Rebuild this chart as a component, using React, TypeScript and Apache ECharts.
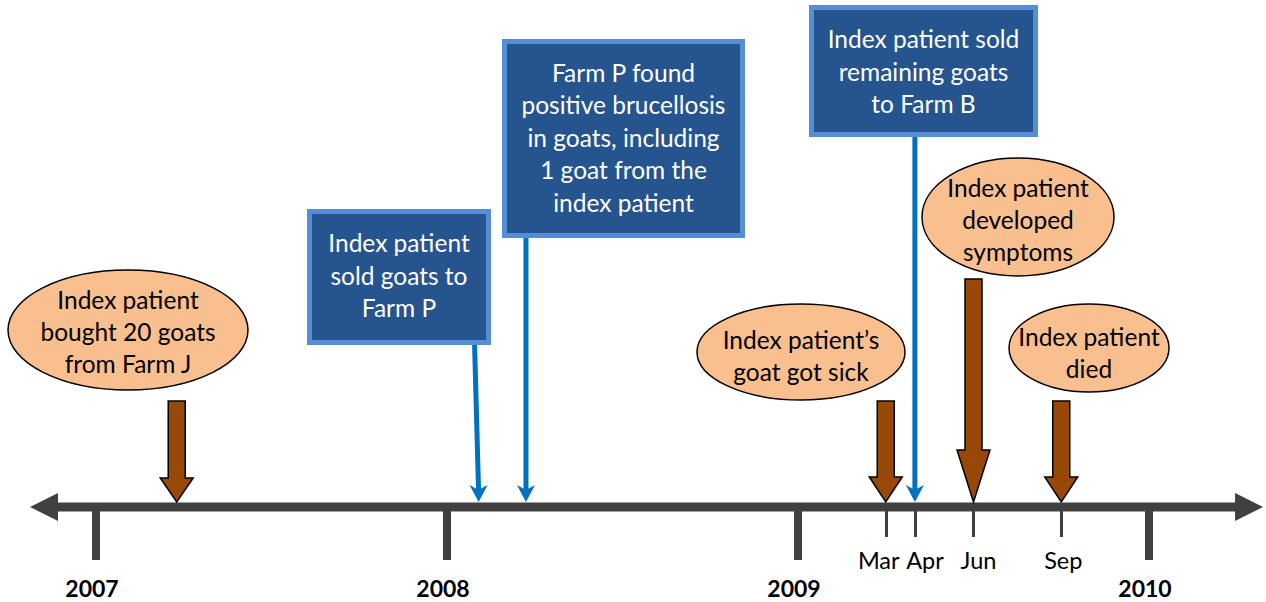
import React, { useEffect, useRef } from 'react';
import * as echarts from 'echarts';

// ---- data ----
const yearTicks = [2007, 2008, 2009, 2010];
const monthYear = 2009;
const monthNumbers = [3, 4, 6, 9];
const monthNames = ['Mar', 'Apr', 'Jun', 'Sep'];
const eventDates = [2007.23, 2008.09, 2008.225, 2009.25, 2009.333, 2009.5, 2009.75];
const eventTexts = [
  'Index patient\nbought 20 goats\nfrom Farm J',
  'Index patient\nsold goats to\nFarm P',
  'Farm P found\npositive brucellosis\nin goats, including\n1 goat from the\nindex patient',
  'Index patient\u2019s\ngoat got sick',
  'Index patient sold\nremaining goats\nto Farm B',
  'Index patient\ndeveloped\nsymptoms',
  'Index patient\ndied',
];

// ---- layout / style ----
const FONT = 'Lato, "Open Sans", sans-serif';
const TEXT_SIZE = 24.5;
const AXIS = '#404040';
const BROWN = '#984807';
const PEACH = '#F9BF8F';
const BOX_FILL = '#26548E';
const BOX_BORDER = '#558ED5';
const BLUE = '#0070C0';
const AXIS_Y = 507;
const AXIS_TOP = 502;
const lineExtent = [2006.812, 2010.325];

type Lay = any;
const eventLayout: Lay[] = [
  { shape: 'ellipse', cx: 128, cy: 330, rx: 120, ry: 60, textY: 331, arrowTop: 401, headTop: 478 },
  { shape: 'box', x0: 307, y0: 209, x1: 491, y1: 345, textY: 275, dx: -4 },
  { shape: 'box', x0: 502, y0: 39, x1: 745, y1: 238, textY: 137, dx: 0 },
  { shape: 'ellipse', cx: 801, cy: 352, rx: 104, ry: 48, textY: 355, arrowTop: 401, headTop: 477 },
  { shape: 'box', x0: 809, y0: 5, x1: 1038, y1: 137, textY: 71, dx: 0 },
  { shape: 'ellipse', cx: 1018, cy: 217, rx: 96, ry: 59, textY: 219, arrowTop: 279, headTop: 450 },
  { shape: 'ellipse', cx: 1089, cy: 348, rx: 80, ry: 44, textY: 352, arrowTop: 401, headTop: 477 },
];
const monthLabelShift = [-7, 10, 5, 2];

const monthValues = monthNumbers.map((m) => monthYear + m / 12);

export default function App() {
  const ref = useRef<HTMLDivElement>(null);
  useEffect(() => {
    if (!ref.current) return;
    const chart = echarts.init(ref.current, undefined, { renderer: 'svg' });

    const monthRich: any = {};
    monthLabelShift.forEach((s, i) => {
      monthRich['m' + i] = {
        fontSize: 23.5,
        fontFamily: FONT,
        color: '#000',
        padding: s < 0 ? [0, -2 * s, 0, 0] : [0, 0, 0, 2 * s],
      };
    });

    const option: any = {
      animation: false,
      backgroundColor: '#fff',
      grid: { left: 96, right: 117, top: 0, bottom: 602 - AXIS_Y, containLabel: false },
      xAxis: [
        {
          type: 'value',
          min: yearTicks[0],
          max: yearTicks[yearTicks.length - 1],
          interval: 1,
          position: 'bottom',
          axisLine: { show: false },
          splitLine: { show: false },
          axisTick: { show: true, length: 53, lineStyle: { width: 8, color: AXIS } },
          axisLabel: {
            show: true,
            margin: 81,
            verticalAlign: 'middle',
            formatter: (v: number) => `{y|${v}}`,
            rich: {
              y: { fontSize: 23, fontWeight: 'bold', fontFamily: FONT, color: '#000', padding: [0, 8, 0, 0] },
            },
          },
        },
        {
          type: 'value',
          min: yearTicks[0],
          max: yearTicks[yearTicks.length - 1],
          position: 'bottom',
          axisLine: { show: false },
          splitLine: { show: false },
          axisTick: { show: true, customValues: monthValues, length: 30, lineStyle: { width: 3, color: AXIS } },
          axisLabel: {
            show: true,
            customValues: monthValues,
            margin: 53,
            verticalAlign: 'middle',
            formatter: (v: number) => {
              let idx = 0;
              monthValues.forEach((mv, i) => {
                if (Math.abs(mv - v) < Math.abs(monthValues[idx] - v)) idx = i;
              });
              return `{m${idx}|${monthNames[idx]}}`;
            },
            rich: monthRich,
          },
        },
      ],
      yAxis: { type: 'value', min: 0, max: 1, show: false },
      series: [
        {
          type: 'custom',
          xAxisIndex: 0,
          clip: false,
          silent: true,
          z: 1,
          data: [[lineExtent[0], 0]],
          renderItem: (params: any, api: any) => {
            const xl = api.coord([lineExtent[0], 0])[0];
            const xr = api.coord([lineExtent[1], 0])[0];
            const head = 28;
            const half = 14;
            return {
              type: 'group',
              children: [
                {
                  type: 'line',
                  shape: { x1: xl + head - 1, y1: AXIS_Y, x2: xr - head + 1, y2: AXIS_Y },
                  style: { stroke: AXIS, lineWidth: 9 },
                },
                {
                  type: 'polygon',
                  shape: { points: [[xl, AXIS_Y], [xl + head, AXIS_Y - half], [xl + head, AXIS_Y + half]] },
                  style: { fill: AXIS },
                },
                {
                  type: 'polygon',
                  shape: { points: [[xr, AXIS_Y], [xr - head, AXIS_Y - half], [xr - head, AXIS_Y + half]] },
                  style: { fill: AXIS },
                },
              ],
            };
          },
        },
        {
          type: 'custom',
          xAxisIndex: 0,
          clip: false,
          silent: true,
          z: 3,
          data: eventDates.map((d, i) => [d, 0, i]),
          encode: { x: 0, y: 1 },
          renderItem: (params: any, api: any) => {
            const i = api.value(2);
            const x = api.coord([api.value(0), 0])[0];
            const L = eventLayout[i];
            const children: any[] = [];
            if (L.shape === 'ellipse') {
              const sw = 8.5;
              const hw = 16.5;
              children.push({
                type: 'polygon',
                shape: {
                  points: [
                    [x - sw, L.arrowTop],
                    [x + sw, L.arrowTop],
                    [x + sw, L.headTop],
                    [x + hw, L.headTop],
                    [x, AXIS_TOP],
                    [x - hw, L.headTop],
                    [x - sw, L.headTop],
                  ],
                },
                style: { fill: BROWN, stroke: '#000', lineWidth: 1.5 },
              });
              children.push({
                type: 'ellipse',
                shape: { cx: L.cx, cy: L.cy, rx: L.rx, ry: L.ry },
                style: { fill: PEACH, stroke: '#000', lineWidth: 1.5 },
              });
              children.push({
                type: 'text',
                style: {
                  text: eventTexts[i],
                  x: L.cx,
                  y: L.textY,
                  align: 'center',
                  verticalAlign: 'middle',
                  fontSize: TEXT_SIZE,
                  fontFamily: FONT,
                  lineHeight: 32,
                  fill: '#000',
                },
              });
            } else {
              children.push({
                type: 'line',
                shape: { x1: x + L.dx, y1: L.y1, x2: x, y2: AXIS_TOP - 10 },
                style: { stroke: BLUE, lineWidth: 5 },
              });
              children.push({
                type: 'polygon',
                shape: { points: [[x, AXIS_TOP], [x - 9, AXIS_TOP - 17], [x, AXIS_TOP - 12], [x + 9, AXIS_TOP - 17]] },
                style: { fill: BLUE },
              });
              children.push({
                type: 'rect',
                shape: { x: L.x0, y: L.y0, width: L.x1 - L.x0, height: L.y1 - L.y0 },
                style: { fill: BOX_BORDER },
              });
              children.push({
                type: 'rect',
                shape: { x: L.x0 + 5, y: L.y0 + 5, width: L.x1 - L.x0 - 10, height: L.y1 - L.y0 - 10 },
                style: { fill: BOX_FILL },
              });
              children.push({
                type: 'text',
                style: {
                  text: eventTexts[i],
                  x: (L.x0 + L.x1) / 2,
                  y: L.textY,
                  align: 'center',
                  verticalAlign: 'middle',
                  fontSize: TEXT_SIZE,
                  fontFamily: FONT,
                  lineHeight: 32.5,
                  fill: '#fff',
                },
              });
            }
            return { type: 'group', children };
          },
        },
      ],
    };
    chart.setOption(option);
    return () => chart.dispose();
  }, []);
  return (
    <div
      ref={ref}
      style={{ position: 'absolute', left: 0, top: 0, width: 1266, height: 602, background: '#fff' }}
    />
  );
}
